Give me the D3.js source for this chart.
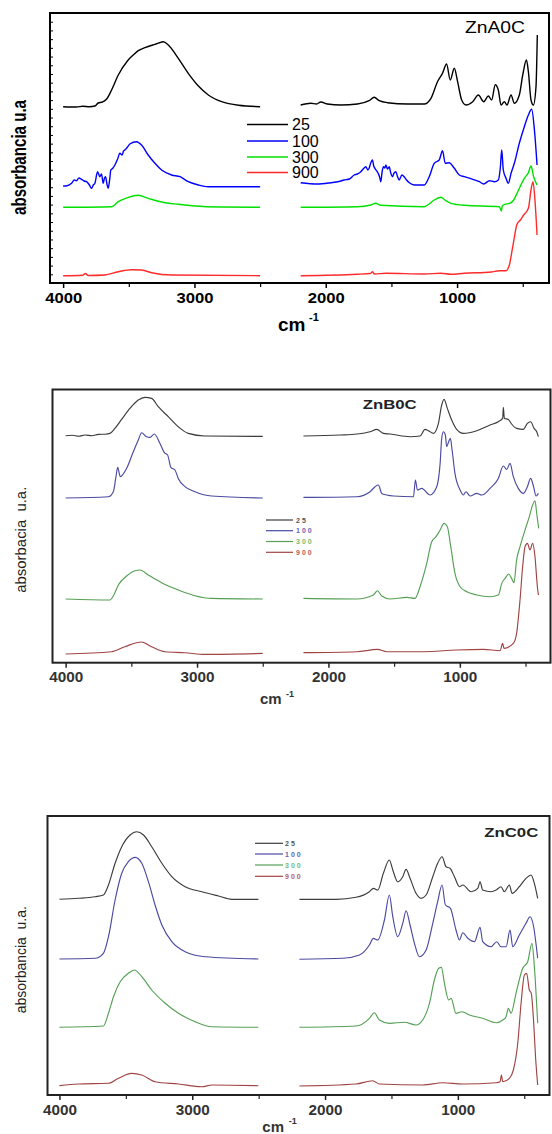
<!DOCTYPE html>
<html><head><meta charset="utf-8">
<script src="https://cdn.jsdelivr.net/npm/d3@7"></script>
<style>body{margin:0;background:#fff}svg{display:block}</style>
</head><body>
<svg id="c" width="552" height="1134"></svg>
<script>
// ---------- data ----------
const temps = ["25", "100", "300", "900"];
const xTicks = [4000, 3000, 2000, 1000];
const xMinor = [3500, 2500, 1500, 500];
const titles = ["ZnA0C", "ZnB0C", "ZnC0C"];
const yTitles = ["absorbancia u.a", "absorbacia  u.a.", "absorbancia  u.a."];
const xTitle = "cm";
const xTitleSup = "-1";
const GAP = [2350, null];

// Panel A (ZnA0C)
const a25 = [[4000,17.63],[3900,17.6],[3850,17.68],[3800,17.62],[3758,17.7],[3733,18.0],[3700,18.1],[3670,18.37],[3631,19.3],[3580,20.8],[3509,22.23],[3466,22.8],[3428,23.23],[3377,23.53],[3301,23.87],[3237,24.13],[3199,23.8],[3123,22.47],[3047,20.97],[2970,19.7],[2894,18.8],[2793,18.13],[2665,17.77],[2500,17.63],
  GAP,[2191,17.8],[2114,17.97],[2070,17.9],[2038,18.1],[1987,17.9],[1886,17.8],[1759,17.9],[1670,18.23],[1631,18.57],[1593,18.23],[1530,18.03],[1377,17.9],[1250,17.9],[1199,18.47],[1149,20.13],[1111,20.97],[1080,21.9],[1052,20.3],[1021,21.47],[996,20.13],[965,18.3],[932,17.8],[881,18.13],[838,18.8],[797,18.13],[762,18.7],[737,18.3],[709,19.83],[686,19.3],[665,17.8],[640,18.13],[620,17.8],[589,18.8],[564,17.97],[526,18.8],[500,20.8],[472,22.3],[457,21.13],[437,18.3],[419,17.8],[399,19.63],[389,24.8]];
const a100 = [[4000,9.7],[3970,9.73],[3936,9.97],[3915,10.3],[3898,10.23],[3880,10.5],[3860,10.37],[3840,10.2],[3822,10.13],[3800,9.8],[3784,9.47],[3770,9.8],[3758,9.97],[3738,11.13],[3720,10.63],[3708,10.9],[3695,9.97],[3685,10.5],[3677,10.63],[3665,9.8],[3657,9.47],[3645,10.4],[3637,11.3],[3620,11.5],[3606,11.8],[3585,12.4],[3568,12.97],[3550,12.8],[3540,13.2],[3530,13.3],[3510,13.6],[3492,13.9],[3441,14.13],[3403,13.8],[3352,12.8],[3301,11.97],[3250,11.3],[3174,10.8],[3110,10.63],[3047,10.13],[2970,9.8],[2894,9.63],[2500,9.63],
  GAP,[2191,10.03],[2064,9.9],[1962,10.03],[1900,10.15],[1860,10.3],[1820,10.4],[1784,10.8],[1760,10.9],[1733,11.13],[1715,11.4],[1695,11.63],[1680,11.3],[1670,11.47],[1660,11.9],[1644,12.3],[1635,11.7],[1626,11.47],[1601,10.97],[1590,10.6],[1581,10.13],[1570,11.2],[1560,11.63],[1550,11.5],[1542,11.8],[1530,11.4],[1517,11.63],[1505,11.0],[1492,10.63],[1480,11.0],[1466,11.13],[1455,10.7],[1441,10.3],[1420,10.8],[1403,10.63],[1385,10.3],[1364,10.03],[1326,9.8],[1250,9.8],[1212,10.63],[1174,11.97],[1136,12.3],[1111,13.23],[1090,11.97],[1060,12.03],[1021,11.47],[983,10.8],[945,10.63],[881,10.37],[830,10.13],[797,9.9],[754,10.23],[716,10.13],[686,10.3],[670,11.63],[660,13.3],[648,11.3],[627,10.47],[610,9.97],[589,10.97],[564,11.97],[526,13.97],[488,15.63],[457,16.8],[432,17.37],[411,15.3],[391,11.8]];
const a300 = [[4000,7.57],[3631,7.63],[3580,8.13],[3504,8.57],[3428,8.77],[3352,8.47],[3250,8.1],[3123,7.87],[2996,7.7],[2800,7.6],[2500,7.57],
  GAP,[2191,7.57],[1760,7.63],[1657,7.8],[1619,7.97],[1581,7.77],[1250,7.63],[1212,7.9],[1174,8.3],[1123,8.57],[1093,8.3],[1047,7.97],[945,7.77],[678,7.63],[662,7.2],[658,7.6],[650,7.8],[589,8.03],[569,8.3],[538,9.13],[488,10.47],[457,11.03],[437,11.7],[417,10.63],[391,9.8]];
const a900 = [[4000,0.73],[3850,0.78],[3830,0.95],[3810,0.75],[3682,0.8],[3580,1.13],[3479,1.33],[3403,1.3],[3326,1.03],[3174,0.8],[2500,0.73],
  GAP,[2191,0.73],[1759,0.87],[1660,0.95],[1644,1.13],[1630,0.9],[1542,0.97],[1250,0.9],[1123,0.97],[1047,0.87],[945,0.97],[741,1.1],[678,1.23],[627,1.23],[602,1.8],[576,3.63],[543,5.9],[518,6.3],[493,6.8],[457,7.47],[437,9.3],[422,10.13],[407,8.3],[391,4.8]];

// Panel B (ZnB0C)
const b25 = [[4000,22.7],[3950,22.75],[3900,22.65],[3853,22.77],[3800,22.7],[3751,22.83],[3700,22.85],[3663,22.93],[3625,23.43],[3574,24.33],[3511,25.43],[3447,26.27],[3396,26.53],[3346,26.43],[3295,25.6],[3219,24.6],[3143,23.6],[3067,22.93],[2940,22.67],[2500,22.63],
  GAP,[2190,22.67],[1911,22.77],[1784,22.87],[1683,23.1],[1632,23.33],[1582,22.93],[1531,22.87],[1379,22.6],[1303,22.67],[1265,23.33],[1239,23.2],[1201,22.93],[1163,23.93],[1138,25.77],[1120,26.33],[1095,25.43],[1062,24.27],[1024,23.33],[973,22.93],[871,23.2],[770,23.77],[707,24.1],[674,24.43],[669,25.53],[661,24.43],[631,24.33],[606,23.87],[568,23.43],[517,23.33],[486,23.93],[461,24.1],[435,23.43],[415,23.1],[402,22.6]];
const b100 = [[4000,16.47],[3675,16.6],[3637,17.1],[3617,18.6],[3604,19.53],[3584,18.6],[3536,19.43],[3485,21.1],[3447,22.27],[3422,23.0],[3384,22.6],[3358,22.53],[3325,22.87],[3282,21.93],[3249,21.0],[3224,20.77],[3199,19.53],[3168,19.27],[3143,18.43],[3092,17.6],[3016,17.1],[2889,16.67],[2500,16.47],
  GAP,[2190,16.53],[1784,16.6],[1683,17.1],[1645,17.6],[1620,17.77],[1594,16.93],[1556,16.77],[1505,16.67],[1353,16.6],[1338,18.27],[1323,17.27],[1290,17.43],[1227,16.77],[1176,17.6],[1150,19.93],[1138,22.43],[1125,23.1],[1110,22.77],[1100,21.6],[1085,22.1],[1072,22.43],[1059,21.27],[1037,18.93],[998,17.27],[973,16.77],[953,17.1],[922,16.67],[871,16.93],[833,16.77],[770,17.43],[707,18.43],[669,19.67],[643,19.33],[618,19.93],[593,18.6],[555,17.43],[517,16.93],[486,17.6],[461,18.43],[440,17.67],[420,16.67],[402,16.93]];
const b300 = [[4000,6.37],[3663,6.27],[3637,6.67],[3599,7.77],[3536,8.67],[3473,9.2],[3434,9.27],[3371,8.77],[3270,8.0],[3143,7.27],[3016,6.7],[2889,6.43],[2500,6.37],
  GAP,[2190,6.43],[1784,6.37],[1658,6.77],[1627,7.2],[1594,6.67],[1531,6.37],[1404,6.53],[1341,6.43],[1303,7.6],[1252,9.93],[1214,12.1],[1181,12.6],[1150,13.27],[1120,13.93],[1095,13.6],[1069,11.6],[1037,8.93],[998,7.6],[947,7.1],[871,6.77],[770,6.6],[707,6.77],[681,7.93],[656,8.43],[628,8.87],[606,8.43],[588,8.0],[568,10.27],[542,11.6],[504,13.27],[471,14.6],[446,15.77],[428,16.2],[415,14.93],[400,13.43]];
const b900 = [[4000,0.87],[3650,1.1],[3549,1.6],[3422,2.07],[3346,1.6],[3244,1.1],[3092,1.0],[2940,0.83],[2500,0.93],
  GAP,[2190,1.0],[1784,1.1],[1627,1.33],[1556,1.1],[1277,1.1],[1024,1.27],[820,1.33],[694,1.2],[674,1.93],[664,1.43],[593,1.93],[568,2.93],[542,6.27],[522,9.6],[504,11.6],[486,11.93],[466,11.27],[446,11.93],[428,10.6],[410,7.6],[402,6.77]];

// Panel C (ZnC0C)
const c25 = [[4000,19.57],[3857,19.67],[3731,19.83],[3669,20.0],[3631,21.0],[3581,23.17],[3531,24.83],[3468,26.0],[3418,26.33],[3367,26.0],[3305,24.83],[3229,23.17],[3154,21.83],[3054,20.83],[2928,20.33],[2803,19.9],[2702,19.57],[2502,19.57],
  GAP,[2193,19.57],[1917,19.57],[1767,19.77],[1666,20.33],[1636,20.67],[1603,20.5],[1561,22.17],[1516,23.5],[1490,22.5],[1453,21.33],[1415,21.83],[1390,22.57],[1360,21.67],[1315,20.17],[1277,19.67],[1239,20.0],[1189,21.83],[1152,23.17],[1119,23.83],[1089,22.83],[1059,22.67],[1026,21.83],[988,20.83],[963,21.0],[900,20.33],[850,20.67],[833,21.33],[813,20.5],[750,20.33],[712,20.5],[675,20.83],[650,20.33],[612,21.0],[592,20.17],[537,20.83],[487,21.67],[449,22.0],[424,21.17],[399,19.67]];
const c100 = [[4000,13.6],[3731,13.67],[3669,14.17],[3631,15.83],[3581,19.5],[3531,22.17],[3481,23.33],[3430,23.77],[3380,23.17],[3330,21.33],[3280,19.0],[3229,17.0],[3154,15.33],[3054,14.33],[2903,13.83],[2502,13.6],
  GAP,[2193,13.57],[1867,13.67],[1741,14.0],[1666,15.0],[1636,15.67],[1603,15.5],[1553,17.5],[1516,20.0],[1490,17.83],[1453,15.83],[1415,17.17],[1390,18.43],[1360,17.0],[1327,15.17],[1290,13.83],[1239,14.5],[1189,17.17],[1152,19.33],[1119,21.0],[1094,19.0],[1056,18.67],[1014,16.5],[988,15.5],[963,16.23],[925,15.67],[875,15.33],[833,16.77],[813,15.33],[750,14.83],[707,15.33],[675,14.83],[637,14.83],[607,16.5],[587,14.83],[537,16.0],[487,17.17],[457,17.83],[432,17.0],[399,13.67]];
const c300 = [[4000,6.77],[3669,6.9],[3631,8.17],[3593,9.83],[3543,11.33],[3481,12.17],[3435,12.5],[3380,11.83],[3305,10.5],[3204,9.17],[3104,8.17],[2978,7.33],[2853,6.83],[2502,6.77],
  GAP,[2193,6.77],[1767,6.9],[1666,7.67],[1629,8.23],[1591,7.5],[1516,7.17],[1403,7.27],[1315,7.0],[1265,7.5],[1214,9.17],[1177,11.5],[1144,12.67],[1124,12.77],[1101,11.17],[1069,9.5],[1051,9.67],[1014,8.17],[968,8.33],[913,8.0],[813,7.67],[712,7.23],[662,7.5],[637,7.83],[620,8.67],[600,8.17],[562,10.17],[512,12.67],[474,13.33],[442,15.17],[424,12.83],[399,7.17]];
const c900 = [[4000,0.93],[3857,1.1],[3631,1.17],[3556,1.67],[3455,2.17],[3380,2.0],[3280,1.33],[3104,1.1],[2928,0.83],[2850,1.0],[2502,0.93],
  GAP,[2193,0.9],[1767,1.1],[1641,1.43],[1591,1.1],[1265,1.0],[1114,1.23],[963,1.1],[712,1.23],[682,1.33],[672,2.0],[662,1.33],[612,1.67],[582,2.5],[549,5.17],[524,9.17],[499,12.0],[482,12.17],[462,10.5],[447,10.17],[432,7.83],[412,3.17],[399,1.0]];

// ---------- drawing ----------
const svg = d3.select("#c");
const FONT = "'Liberation Sans', Arial, sans-serif";

const panels = [
  { box:[50,13,549,283], dom:[4100,300], ymax:27.0, series:[a25,a100,a300,a900],
    colors:["#000000","#0000ff","#00e000","#ff2a2a"], lw:1.4, frame:"#000", frameW:2,
    yTicks:true, tickLabY:20.3, tickLabLen:37, tickCol:"#000", tickSize:15,
    title:{x:465, y:33, size:16, weight:"normal", len:60, col:"#000"},
    legend:{x0:247, x1:288, tx:292, ys:[124.5,141,157,172.5], size:16, weight:"normal", ls:0, lw:1.6, textCols:["#000","#000","#000","#000"], dy:5.6},
    xt:{x:278, y:330.5, size:19, sx:309, sy:321, ssize:11},
    yt:{x:18.5, y:157.5, size:21, weight:"bold", len:115, col:"#000"} },
  { box:[52.5,389.5,550.5,662.7], dom:[4100,310], ymax:27.32, series:[b25,b100,b300,b900],
    colors:["#3c3c3c","#4a4aa2","#55a055","#a04444"], lw:1.15, frame:"#222", frameW:2,
    yTicks:false, tickLabY:19, tickLabLen:34, tickCol:"#333", tickSize:14,
    title:{x:362.7, y:409.3, size:13, weight:"bold", len:54, col:"#222"},
    legend:{x0:266, x1:293, tx:296, ys:[520,530.7,541.5,552.3], size:7, weight:"bold", ls:2, lw:1.2, textCols:["#555","#6464b8","#72bc72","#b85c5c"], dy:2.6},
    xt:{x:260, y:704, size:15, sx:286, sy:697, ssize:9},
    yt:{x:21, y:539.7, size:15, weight:"normal", len:106, col:"#222"} },
  { box:[47.5,816,549.5,1095], dom:[4090,310], ymax:27.9, series:[c25,c100,c300,c900],
    colors:["#3c3c3c","#4a4aa2","#55a055","#a04444"], lw:1.15, frame:"#222", frameW:2,
    yTicks:false, tickLabY:20, tickLabLen:34, tickCol:"#333", tickSize:14,
    title:{x:484.3, y:836.7, size:13, weight:"bold", len:54, col:"#222"},
    legend:{x0:255, x1:283, tx:285, ys:[843.3,854,865,876.3], size:7, weight:"bold", ls:2, lw:1.2, textCols:["#555","#6464b8","#72bc72","#b85c5c"], dy:2.6},
    xt:{x:262.3, y:1131.7, size:15, sx:288.7, sy:1124, ssize:9},
    yt:{x:21, y:959.7, size:15, weight:"normal", len:107, col:"#222"} }
];

panels.forEach((p, pi) => {
  const [x0, y0, x1, y1] = p.box;
  const x = d3.scaleLinear().domain(p.dom).range([x0, x1]);
  const y = d3.scaleLinear().domain([0, p.ymax]).range([y1, y0]);
  const g = svg.append("g");

  const line = d3.line()
    .defined(d => d[1] != null)
    .x(d => x(d[0])).y(d => y(d[1]))
    .curve(d3.curveMonotoneX);

  p.series.forEach((s, i) => {
    g.append("path").attr("d", line(s)).attr("fill", "none")
      .attr("stroke", p.colors[i]).attr("stroke-width", p.lw)
      .attr("stroke-linejoin", "round");
  });

  // frame
  g.append("rect").attr("x", x0).attr("y", y0).attr("width", x1 - x0).attr("height", y1 - y0)
    .attr("fill", "none").attr("stroke", p.frame).attr("stroke-width", p.frameW);

  // x axis: major ticks with labels
  const axG = g.append("g").attr("transform", `translate(0,${y1})`)
    .call(d3.axisBottom(x).tickValues(xTicks).tickSize(5).tickFormat(d3.format("d")));
  axG.select(".domain").remove();
  axG.selectAll(".tick line").attr("stroke", p.frame).attr("stroke-width", 1.5);
  axG.selectAll(".tick text")
    .attr("y", p.tickLabY).attr("dy", 0)
    .attr("font-family", FONT).attr("font-weight", "bold").attr("font-size", p.tickSize)
    .attr("fill", p.tickCol)
    .attr("textLength", p.tickLabLen).attr("lengthAdjust", "spacingAndGlyphs");

  // minor ticks
  const mnG = g.append("g").attr("transform", `translate(0,${y1})`)
    .call(d3.axisBottom(x).tickValues(xMinor).tickSize(4).tickFormat(""));
  mnG.select(".domain").remove();
  mnG.selectAll(".tick line").attr("stroke", p.frame).attr("stroke-width", 1.2);

  // y ticks (panel A only)
  if (p.yTicks) {
    const yg = g.append("g").attr("transform", `translate(${x0},0)`)
      .call(d3.axisRight(y).tickValues(d3.range(0.87, 26.3, 0.871)).tickSize(3).tickFormat(""));
    yg.select(".domain").remove();
    yg.selectAll(".tick line").attr("stroke", "#000").attr("stroke-width", 1);
  }

  // title
  g.append("text").attr("x", p.title.x).attr("y", p.title.y).text(titles[pi])
    .attr("font-family", FONT).attr("font-size", p.title.size).attr("font-weight", p.title.weight)
    .attr("fill", p.title.col)
    .attr("textLength", p.title.len).attr("lengthAdjust", "spacingAndGlyphs");

  // legend
  temps.forEach((t, i) => {
    const ly = p.legend.ys[i];
    g.append("line").attr("x1", p.legend.x0).attr("x2", p.legend.x1).attr("y1", ly).attr("y2", ly)
      .attr("stroke", p.colors[i]).attr("stroke-width", p.legend.lw);
    g.append("text").attr("x", p.legend.tx).attr("y", ly + p.legend.dy).text(t)
      .attr("font-family", FONT).attr("font-size", p.legend.size).attr("font-weight", p.legend.weight)
      .attr("letter-spacing", p.legend.ls).attr("fill", p.legend.textCols[i]);
  });

  // x title
  const xt = g.append("text").attr("font-family", FONT).attr("font-weight", "bold").attr("fill", p.tickCol);
  xt.append("tspan").attr("x", p.xt.x).attr("y", p.xt.y).attr("font-size", p.xt.size).text(xTitle);
  xt.append("tspan").attr("x", p.xt.sx).attr("y", p.xt.sy).attr("font-size", p.xt.ssize).text(xTitleSup);

  // y title
  g.append("text").attr("transform", `translate(${p.yt.x},${p.yt.y}) rotate(-90)`)
    .attr("text-anchor", "middle").attr("dy", "0.35em")
    .attr("font-family", FONT).attr("font-size", p.yt.size).attr("font-weight", p.yt.weight)
    .attr("fill", p.yt.col).style("white-space", "pre")
    .attr("textLength", p.yt.len).attr("lengthAdjust", "spacingAndGlyphs")
    .text(yTitles[pi]);
});
</script>
</body></html>
